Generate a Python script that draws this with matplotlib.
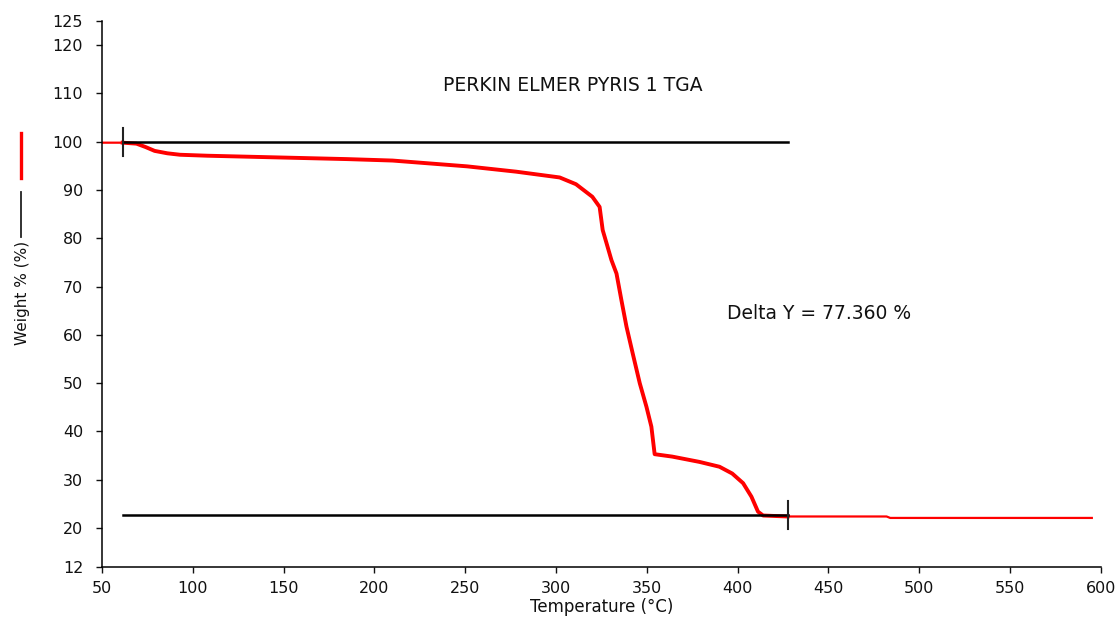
import matplotlib
matplotlib.use('Agg')
import matplotlib.pyplot as plt
from matplotlib.lines import Line2D
import numpy as np

# TGA curve (temperature in degC, weight in %)
temp = [50, 61.4, 69, 74, 79, 86, 93, 108, 141, 185, 210, 251, 278, 302,
        311, 320, 324, 325.7, 327.8, 330.5, 333.3, 336, 338.8, 342.2, 346.1,
        349.8, 352.5, 354.3, 364, 379, 390, 397, 403, 407.6, 411.2, 414,
        427.5, 482, 484, 595]
weight = [99.8, 99.8, 99.6, 98.9, 98.1, 97.6, 97.3, 97.1, 96.8, 96.4, 96.1,
          94.9, 93.8, 92.6, 91.2, 88.6, 86.5, 81.7, 79.0, 75.5, 72.7, 67.2,
          61.7, 56.2, 50.0, 45.1, 41.0, 35.3, 34.8, 33.7, 32.7, 31.3, 29.3,
          26.5, 23.4, 22.6, 22.4, 22.4, 22.1, 22.1]

# delta Y analysis limits
x_start, x_end = 61.4, 427.5
y_top, y_bottom = 100.0, 22.64

yticks = [12, 20, 30, 40, 50, 60, 70, 80, 90, 100, 110, 120, 125]
xticks = [50, 100, 150, 200, 250, 300, 350, 400, 450, 500, 550, 600]

font = 'DejaVu Sans'
plt.rcParams['font.family'] = font

fig = plt.figure(figsize=(11.18, 6.17), dpi=100)
ax = fig.add_axes([0.0912, 0.0815, 0.8935, 0.8845])

t = np.array(temp)
w = np.array(weight)
# whole curve thin, analysed range drawn thicker
ax.plot(t, w, color='red', lw=1.6, zorder=2)
sel = (t >= x_start) & (t <= x_end)
ax.plot(t[sel], w[sel], color='red', lw=2.8, zorder=2)

# baselines and limit markers
ax.plot([x_start, x_end], [y_top, y_top], color='black', lw=1.8, zorder=3)
ax.plot([x_start, x_end], [y_bottom, y_bottom], color='black', lw=1.8, zorder=3)
ax.plot([x_start, x_start], [y_top - 2.9, y_top + 2.9], color='#222222', lw=1.5, zorder=3)
ax.plot([x_end, x_end], [y_bottom - 2.9, y_bottom + 2.9], color='#222222', lw=1.5, zorder=3)

ax.text(309, 111.7, 'PERKIN ELMER PYRIS 1 TGA', ha='center', va='center',
        fontsize=13.5, color='#111111')
ax.text(394, 64.5, 'Delta Y = %.3f %%' % (y_top - y_bottom), ha='left', va='center',
        fontsize=13.5, color='#111111')

ax.set_xlim(50, 600)
ax.set_ylim(12, 125)
ax.set_xticks(xticks)
ax.set_yticks(yticks)
ax.tick_params(direction='out', length=4.5, width=1, labelsize=11.5, colors='#111111')
ax.tick_params(axis='y', pad=9)
ax.tick_params(axis='x', pad=6)
for s in ['top', 'right']:
    ax.spines[s].set_visible(False)
for s in ['left', 'bottom']:
    ax.spines[s].set_linewidth(1.1)

ax.set_xlabel('Temperature (°C)', fontsize=12, labelpad=1, color='#111111')

# y label with the line samples
fig.text(0.0205, 0.525, 'Weight % (%)', rotation=90, ha='center', va='center',
         fontsize=11, color='#111111')
fig.add_artist(Line2D([0.0188, 0.0188], [0.711, 0.785], color='red', lw=2.4,
                      transform=fig.transFigure))
fig.add_artist(Line2D([0.0188, 0.0188], [0.616, 0.689], color='#222222', lw=1.3,
                      transform=fig.transFigure))

fig.savefig('out.png', dpi=100)
